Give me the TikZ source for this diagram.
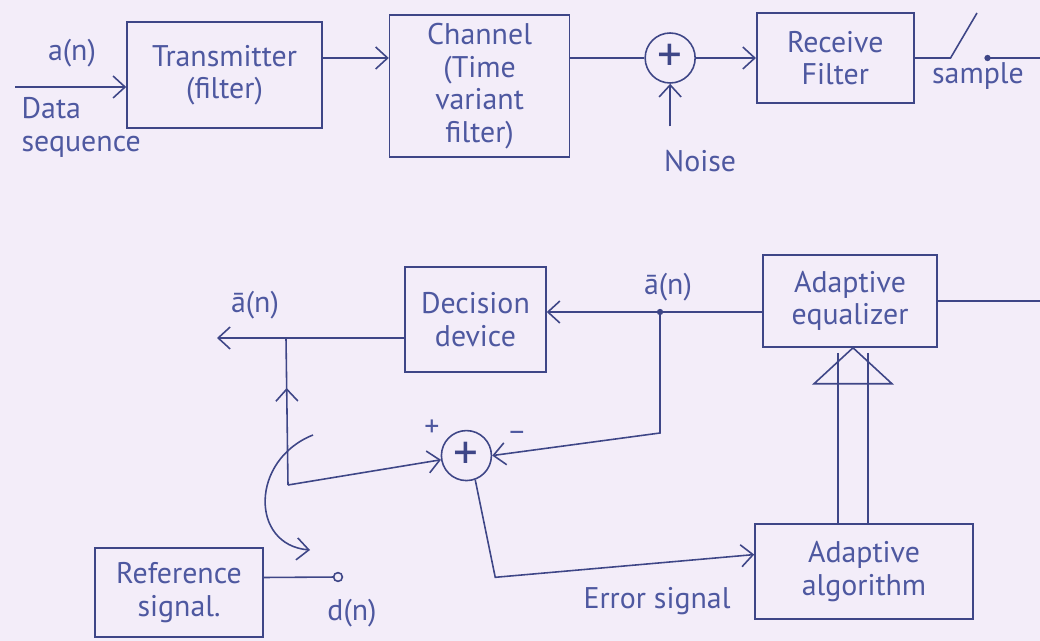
\documentclass[tikz,border=0pt]{standalone}
\usepackage{fontspec}
\setmainfont{PT Sans}
\usetikzlibrary{arrows.meta,positioning,calc,decorations.markings}
\definecolor{ink}{RGB}{62,70,135}
\definecolor{pen}{RGB}{78,88,160}
\definecolor{paper}{RGB}{243,237,249}

\begin{document}
\begin{tikzpicture}[
  >={Straight Barb[length=2.4mm,width=4.4mm]},
  line width=0.9pt,
  box/.style={draw=ink, text=pen, align=center, inner sep=2pt, font=\fontsize{17}{18.5}\selectfont},
  sum/.style={draw=ink, circle, minimum size=10mm, inner sep=0pt, text=ink, font=\fontsize{28}{28}\selectfont},
  lbl/.style={text=pen, align=center, font=\fontsize{17}{18.5}\selectfont},
  wire/.style={draw=ink},
  midup/.style={postaction={decorate}, decoration={markings, mark=at position 0.66 with {\arrow{>}}}}
]

% Paper
\fill[paper] (0,0) rectangle (20.8,-12.82);
\useasboundingbox (0,0) rectangle (20.8,-12.82);

% Transmission path
\node[box, minimum width=3.9cm, minimum height=2.12cm] (tx) at (4.49,-1.5) {Transmitter\\(filter)};
\node[box, minimum width=3.6cm, minimum height=2.84cm, right=1.32cm of tx, yshift=-2.2mm] (ch) {Channel\\(Time\\variant\\filter)};
\node[sum, right=1.48cm of ch, yshift=5.6mm] (add1) {+};
\node[box, minimum width=3.14cm, minimum height=1.8cm, right=1.2cm of add1] (rx) {Receive\\Filter};

% Equalizer loop
\node[box, minimum width=3.48cm, minimum height=1.84cm] (eq) at (17.0,-6.02) {Adaptive\\equalizer};
\node[box, minimum width=2.82cm, minimum height=2.1cm, left=4.31cm of eq, yshift=-3.7mm] (dd) {Decision\\device};
\node[sum, below=1.14cm of dd, xshift=-1.8mm] (add2) {+};
\node[box, minimum width=4.36cm, minimum height=1.9cm, below=3.51cm of eq, xshift=2.8mm] (algo) {Adaptive\\algorithm};
\node[box, minimum width=3.36cm, minimum height=1.78cm] (ref) at (3.58,-11.85) {Reference\\signal.};

% Free ends
\coordinate (in) at (0.3,-1.74);
\coordinate (swa) at ([xshift=7.2mm]rx.east);
\coordinate (swb) at (19.54,-0.26);
\coordinate (swc) at ([xshift=14.6mm]rx.east);
\coordinate (tap) at (13.2,-6.24);
\coordinate (out) at (4.34,-6.76);
\coordinate (split) at (5.72,-6.76);
\coordinate (bend) at (5.76,-9.7);
\coordinate (dn) at (6.76,-11.54);
\coordinate (modea) at (6.26,-8.7);
\coordinate (modeb) at (6.2,-11.0);
\coordinate (tip) at ([xshift=0.6mm]eq.south);

% Labels
\node[lbl] (an) at (1.44,-1.06) {a(n)};
\node[lbl, align=left, anchor=west] (data) at (0.3,-2.55) {Data\\sequence};
\node[lbl, below=1.2cm of add1, xshift=6mm] (noise) {Noise};
\node[lbl] (sample) at (19.56,-1.52) {sample};
\node[lbl] (abar1) at (13.36,-5.74) {ā(n)};
\node[lbl] (abar2) at (5.1,-6.1) {ā(n)};
\node[lbl] (plus) at (8.64,-8.56) {+};
\node[lbl] (minus) at (10.34,-8.74) {−};
\node[lbl] (err) at (13.14,-12.02) {Error signal};
\node[lbl] (dlbl) at (7.04,-12.26) {d(n)};

% Connections
\draw[->, ink] (in) -- (in -| tx.west);
\draw[->, ink] (tx.east |- add1) -- (ch.west |- add1);
\draw[ink] (ch.east |- add1) -- (add1.west);
\draw[->, ink, shorten <=3.5mm] (noise.north -| add1) -- (add1.south);
\draw[->, ink] (add1.east) -- (add1.east -| rx.west);

\draw[ink] (rx.east) -- (swa) -- (swb);
\fill[ink] (swc) circle (1.8pt);
\draw[ink] (swc) -- ++(1.1,0) |- (eq.east);

\draw[->, ink] (eq.west |- tap) -- (tap -| dd.east);
\fill[ink] (tap) circle (1.8pt);
\draw[->, ink] (dd.west |- out) -- (out);
\draw[ink, midup] (bend) -- (split);
\draw[->, ink] (bend) -- (add2);
\draw[->, ink] (tap) -- ++(0,-2.42) -- (add2.east);
\draw[->, ink] (add2.-70) -- ++(0.4,-1.95) -- ([yshift=3.4mm]algo.west);

% Wide arrow into equalizer
\draw[ink] ($(tip)+(-0.78,-0.72)$) -- (tip) -- ($(tip)+(0.78,-0.72)$) -- cycle;
\draw[ink] ($(tip)+(-0.3,-0.1)$) -- ($(tip |- algo.north)+(-0.3,0)$);
\draw[ink] ($(tip)+(0.3,-0.1)$) -- ($(tip |- algo.north)+(0.3,0)$);

% Reference branch
\draw[ink] ([yshift=3mm]ref.east) -- (dn);
\draw[ink, fill=paper] (dn) circle (2.5pt);
\draw[->, ink] (modea) .. controls (5.0,-9.2) and (5.0,-10.9) .. (modeb);

\end{tikzpicture}
\end{document}
